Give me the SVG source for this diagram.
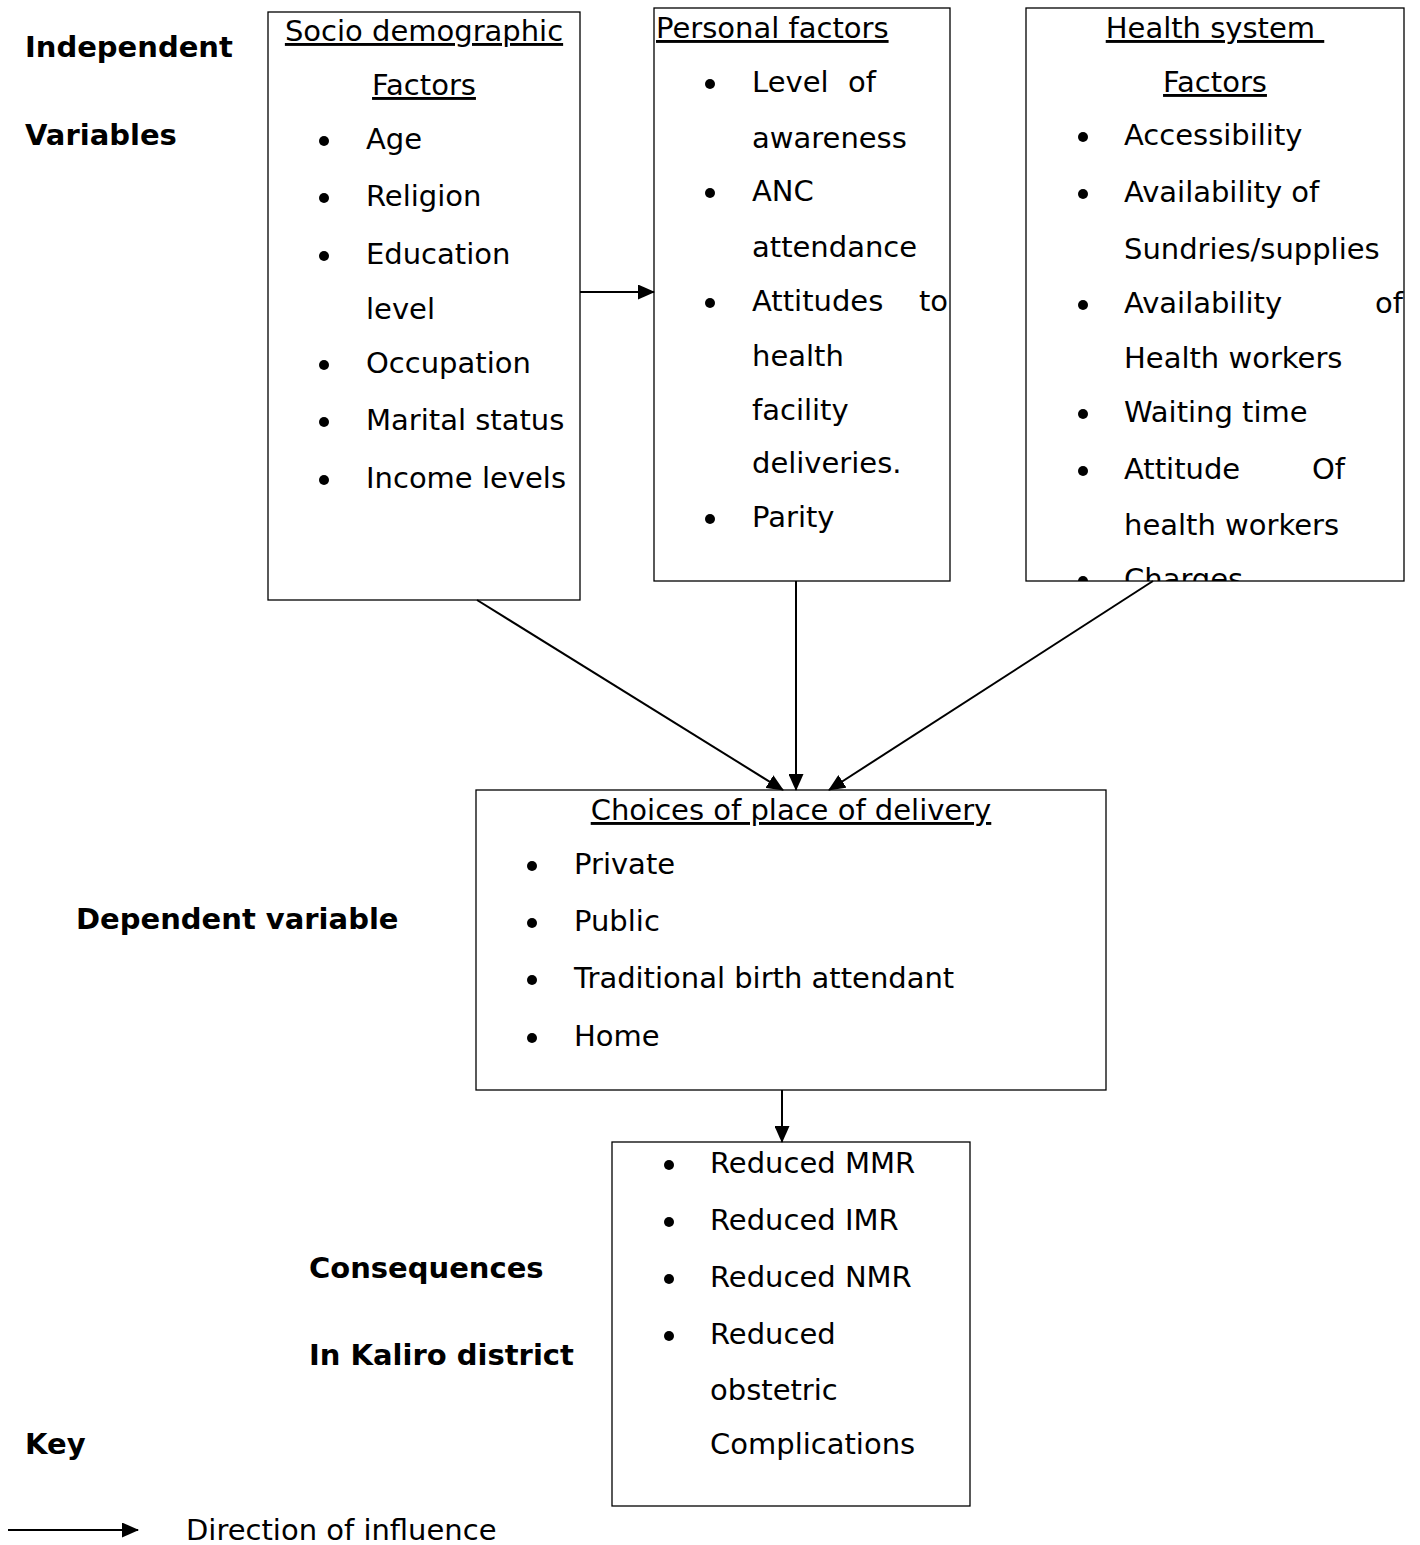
<svg xmlns="http://www.w3.org/2000/svg" xmlns:xlink="http://www.w3.org/1999/xlink" width="1420" height="1545" viewBox="0 0 1420 1545">
<style>
text{font-family:"DejaVu Sans","Verdana",sans-serif;font-size:29px;fill:#000}
.b{font-weight:bold}
.u{text-decoration:underline}
.m{text-anchor:middle}
.box{fill:#fff;stroke:#000;stroke-width:1.3}
.con{stroke:#000;stroke-width:2;fill:none;marker-end:url(#ah)}
</style>
<defs>
<marker id="ah" markerUnits="userSpaceOnUse" markerWidth="17" markerHeight="15" refX="16" refY="7.5" orient="auto">
<path d="M0,0 L17,7.5 L0,15 Z" fill="#000"/>
</marker>
<circle id="bul" cx="0" cy="0" r="5" fill="#000"/>
<clipPath id="hclip"><rect x="1026" y="8" width="378" height="573"/></clipPath>
</defs>
<rect width="1420" height="1545" fill="#fff"/>

<g id="labels">
<text class="b" x="25" y="57">Independent</text>
<text class="b" x="25" y="145">Variables</text>
<text class="b" x="76" y="929">Dependent variable</text>
<text class="b" x="309" y="1278">Consequences</text>
<text class="b" x="309" y="1365">In Kaliro district</text>
<text class="b" x="25" y="1454">Key</text>
</g>

<g id="socio">
<rect class="box" x="268" y="12" width="312" height="588"/>
<text class="u m" x="424" y="41">Socio demographic</text>
<text class="u m" x="424" y="95">Factors</text>
<use xlink:href="#bul" x="324" y="141"/><text x="366" y="149">Age</text>
<use xlink:href="#bul" x="324" y="198"/><text x="366" y="206">Religion</text>
<use xlink:href="#bul" x="324" y="256"/><text x="366" y="264">Education</text>
<text x="366" y="319">level</text>
<use xlink:href="#bul" x="324" y="365"/><text x="366" y="373">Occupation</text>
<use xlink:href="#bul" x="324" y="422"/><text x="366" y="430">Marital status</text>
<use xlink:href="#bul" x="324" y="480"/><text x="366" y="488">Income levels</text>
</g>

<g id="personal">
<rect class="box" x="654" y="8" width="296" height="573"/>
<text class="u" x="656" y="38">Personal factors</text>
<use xlink:href="#bul" x="710" y="84"/><text x="752" y="92">Level</text><text x="848" y="92">of</text>
<text x="752" y="148">awareness</text>
<use xlink:href="#bul" x="710" y="193"/><text x="752" y="201">ANC</text>
<text x="752" y="257">attendance</text>
<use xlink:href="#bul" x="710" y="303"/><text x="752" y="311">Attitudes</text><text x="948" y="311" text-anchor="end">to</text>
<text x="752" y="366">health</text>
<text x="752" y="420">facility</text>
<text x="752" y="473">deliveries.</text>
<use xlink:href="#bul" x="710" y="519"/><text x="752" y="527">Parity</text>
</g>

<g id="health">
<rect class="box" x="1026" y="8" width="378" height="573"/>
<text class="u m" x="1215" y="38">Health system&#160;</text>
<text class="u m" x="1215" y="92">Factors</text>
<use xlink:href="#bul" x="1083" y="137"/><text x="1124" y="145">Accessibility</text>
<use xlink:href="#bul" x="1083" y="194"/><text x="1124" y="202">Availability of</text>
<text x="1124" y="259">Sundries/supplies</text>
<use xlink:href="#bul" x="1083" y="305"/><text x="1124" y="313">Availability</text><text x="1403" y="313" text-anchor="end">of</text>
<text x="1124" y="368">Health workers</text>
<use xlink:href="#bul" x="1083" y="414"/><text x="1124" y="422">Waiting time</text>
<use xlink:href="#bul" x="1083" y="471"/><text x="1124" y="479">Attitude</text><text x="1345" y="479" text-anchor="end">Of</text>
<text x="1124" y="535">health workers</text>
<g clip-path="url(#hclip)">
<use xlink:href="#bul" x="1083" y="581"/><text x="1124" y="589">Charges</text>
</g>
</g>

<g id="choices">
<rect class="box" x="476" y="790" width="630" height="300"/>
<text class="u m" x="791" y="820">Choices of place of delivery</text>
<use xlink:href="#bul" x="532" y="866"/><text x="574" y="874">Private</text>
<use xlink:href="#bul" x="532" y="923"/><text x="574" y="931">Public</text>
<use xlink:href="#bul" x="532" y="980"/><text x="574" y="988">Traditional birth attendant</text>
<use xlink:href="#bul" x="532" y="1038"/><text x="574" y="1046">Home</text>
</g>

<g id="consequences">
<rect class="box" x="612" y="1142" width="358" height="364"/>
<use xlink:href="#bul" x="669" y="1165"/><text x="710" y="1173">Reduced MMR</text>
<use xlink:href="#bul" x="669" y="1222"/><text x="710" y="1230">Reduced IMR</text>
<use xlink:href="#bul" x="669" y="1279"/><text x="710" y="1287">Reduced NMR</text>
<use xlink:href="#bul" x="669" y="1336"/><text x="710" y="1344">Reduced</text>
<text x="710" y="1400">obstetric</text>
<text x="710" y="1454">Complications</text>
</g>

<g id="key">
<text x="186" y="1540">Direction of influence</text>
</g>

<g id="connectors">
<line class="con" x1="580" y1="292" x2="654" y2="292"/>
<line class="con" x1="477" y1="600" x2="783" y2="790"/>
<line class="con" x1="796" y1="581" x2="796" y2="790"/>
<line class="con" x1="1153" y1="581" x2="829" y2="790"/>
<line class="con" x1="782" y1="1090" x2="782" y2="1142"/>
<line class="con" x1="8" y1="1530" x2="138" y2="1530"/>
</g>
</svg>
